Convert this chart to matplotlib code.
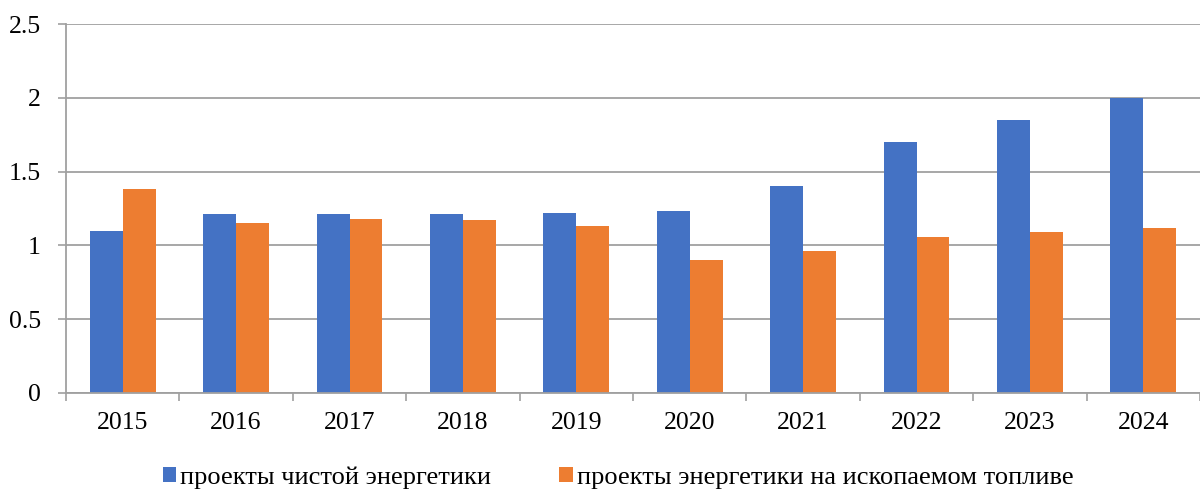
import matplotlib.pyplot as plt
import numpy as np

plt.rcParams['font.family'] = ['Liberation Serif', 'DejaVu Serif']

years = ['2015', '2016', '2017', '2018', '2019', '2020', '2021', '2022', '2023', '2024']
clean = [1.10, 1.21, 1.21, 1.21, 1.22, 1.23, 1.40, 1.70, 1.85, 2.00]
fossil = [1.38, 1.15, 1.18, 1.17, 1.13, 0.90, 0.96, 1.06, 1.09, 1.12]
labels = ['проекты чистой энергетики', 'проекты энергетики на ископаемом топливе']

fig = plt.figure(figsize=(12, 4.91), dpi=100)
ax = fig.add_axes([0.055, 0.1996, 0.945, 0.7515])

x = np.arange(len(years))
w = 0.29
ax.bar(x - w / 2, clean, w, color='#4472C4', label=labels[0], zorder=2)
ax.bar(x + w / 2, fossil, w, color='#ED7D31', label=labels[1], zorder=2)

ax.set_xlim(-0.5, len(years) - 0.5)
ax.set_ylim(0, 2.5)
ax.set_yticks([0, 0.5, 1, 1.5, 2, 2.5])
ax.set_yticklabels(['0', '0.5', '1', '1.5', '2', '2.5'])
ax.grid(axis='y', color='#a0a0a0', linewidth=1.3, zorder=0)

# labels at the centres, tick marks at the category boundaries
ax.set_xticks(np.arange(-0.5, len(years), 1))
ax.set_xticklabels([])
ax.set_xticks(x, minor=True)
ax.set_xticklabels(years, minor=True)
ax.tick_params(axis='x', which='major', length=6, color='#a0a0a0', width=1.2)
ax.tick_params(axis='x', which='minor', length=0, pad=14, labelsize=18.5)
ax.tick_params(axis='y', length=6, color='#a0a0a0', width=1.2, pad=12, labelsize=18.5)

for s in ['top', 'right']:
    ax.spines[s].set_visible(False)
for s in ['left', 'bottom']:
    ax.spines[s].set_color('#a0a0a0')
    ax.spines[s].set_linewidth(1.3)

fig.legend(loc='lower center', bbox_to_anchor=(0.515, -0.045), ncol=2, frameon=False,
           fontsize=19, handlelength=0.5, handleheight=0.5, handletextpad=0.15,
           columnspacing=2.6)

fig.savefig('out.png', dpi=100)
